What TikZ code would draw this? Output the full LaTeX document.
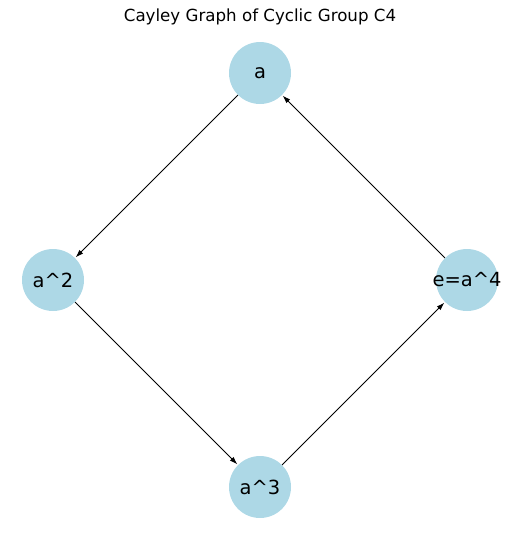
\documentclass[tikz,border=0pt]{standalone}
\usepackage{fontspec}
\setmainfont{DejaVu Sans}
\usetikzlibrary{arrows.meta}
\definecolor{lightblue}{RGB}{173,216,230}

\begin{document}
\begin{tikzpicture}[x=0.75pt,y=-0.75pt,
  elem/.style={circle,fill=lightblue,minimum size=46.5pt,inner sep=0pt,font=\fontsize{14.6pt}{17pt}\selectfont},
  gen/.style={-{Latex[length=6pt,width=4pt]},line width=0.75pt,shorten >=0.5pt}]
\useasboundingbox (0,0) rectangle (519,540);
% Title
\node[font=\fontsize{12.5pt}{15pt}\selectfont] (title) at (260,17) {Cayley Graph of Cyclic Group C4};

% Elements
\node[elem] (a) at (260,73) {a};
\node[elem] (a2) at (53,280) {a\^{}2};
\node[elem] (e) at (467,280) {\makebox[0pt]{e=a\^{}4}};
\node[elem] (a3) at (260,487) {a\^{}3};

% Generator edges
\draw[gen] (a) -- (a2);
\draw[gen] (a2) -- (a3);
\draw[gen] (a3) -- (e);
\draw[gen] (e) -- (a);
\end{tikzpicture}
\end{document}
